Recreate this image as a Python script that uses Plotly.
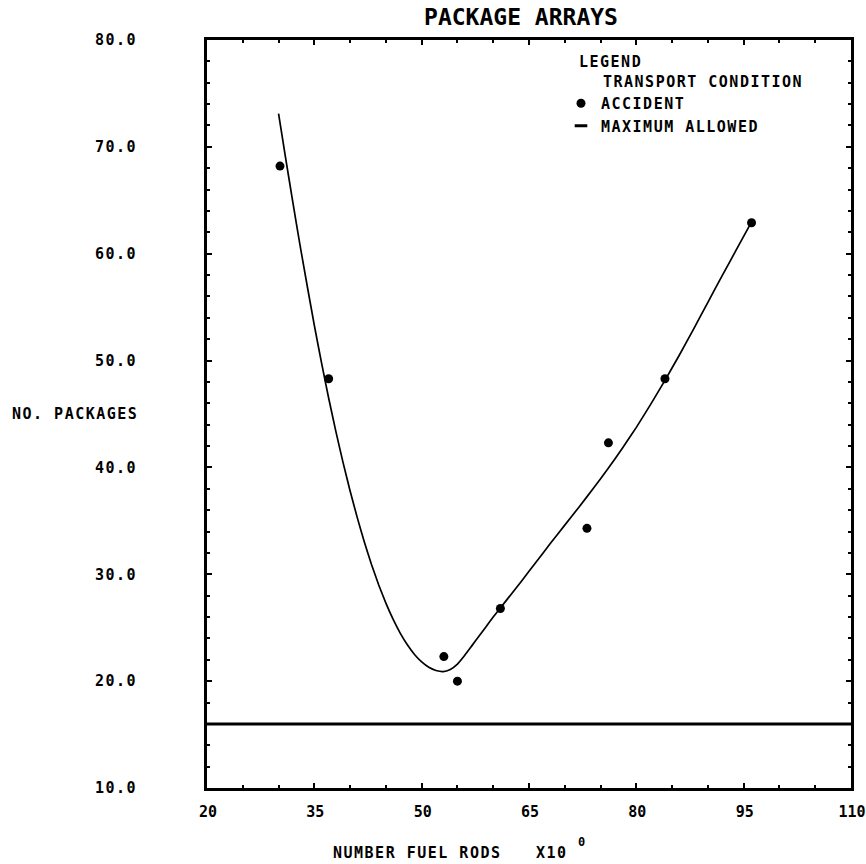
import plotly.graph_objects as go

# ---- data ----
accident_x = [30.2, 37.0, 53.1, 55.0, 61.0, 73.1, 76.1, 84.0, 96.1]
accident_y = [68.2, 48.3, 22.3, 20.0, 26.8, 34.3, 42.3, 48.3, 62.9]

fit_x = [30.0, 31.0, 32.0, 33.0, 34.0, 35.0, 36.0, 37.0, 38.0, 39.0, 40.0,
         41.0, 42.0, 43.0, 44.0, 45.0, 46.0, 47.0, 48.0, 49.0, 50.0, 51.0,
         52.0, 53.0, 54.0, 55.0, 56.0, 57.0, 58.0, 59.0, 60.0, 61.0, 62.0,
         64.0, 66.0, 68.0, 70.0, 72.0, 74.0, 76.0, 78.0, 80.0, 82.0, 84.0,
         86.0, 88.0, 90.0, 92.0, 94.0, 95.8]
fit_y = [73.1, 68.9, 64.8, 60.8, 57.0, 53.3, 49.8, 46.5, 43.4, 40.5, 37.8,
         35.3, 33.0, 30.9, 29.0, 27.3, 25.8, 24.5, 23.4, 22.5, 21.8, 21.3,
         21.0, 20.9, 21.1, 21.6, 22.4, 23.3, 24.2, 25.1, 26.0, 26.85, 27.7,
         29.4, 31.15, 32.9, 34.6, 36.3, 38.05, 39.85, 41.75, 43.75, 45.9, 48.15,
         50.5, 52.95, 55.45, 57.95, 60.4, 62.6]

max_allowed_x = [20, 110]
max_allowed_y = [16.0, 16.0]

x_ticks = [20, 35, 50, 65, 80, 95, 110]
x_ticklabels = ["20", "35", "50", "65", "80", "95", "110"]
y_ticks = [10, 20, 30, 40, 50, 60, 70, 80]
y_ticklabels = ["10.0", "20.0", "30.0", "40.0", "50.0", "60.0", "70.0", "80.0"]

FONT = "DejaVu Sans Mono"


def sp(text):
    """Wide letter spacing like the plotter's character set."""
    return '<span style="letter-spacing:1.5px">' + text + '</span>'


fig = go.Figure()

# fitted curve
fig.add_trace(go.Scatter(
    x=fit_x, y=fit_y, mode="lines", showlegend=False,
    line=dict(color="black", width=1.7, shape="spline", smoothing=0.4),
    hoverinfo="skip"))

# maximum allowed line
fig.add_trace(go.Scatter(
    x=max_allowed_x, y=max_allowed_y, mode="lines", showlegend=False,
    legendgroup="max", line=dict(color="black", width=3)))

# accident points
fig.add_trace(go.Scatter(
    x=accident_x, y=accident_y, mode="markers", name=sp("ACCIDENT"),
    marker=dict(color="black", size=9, symbol="circle")))

# legend entry for the maximum allowed line
fig.add_trace(go.Scatter(
    x=[None], y=[None], mode="markers", name=sp("MAXIMUM ALLOWED"),
    legendgroup="max",
    marker=dict(symbol="line-ew", size=9, color="black",
                line=dict(color="black", width=3))))

axis_common = dict(
    showline=True, linecolor="black", linewidth=3, mirror="ticks",
    ticks="inside", tickcolor="black", tickwidth=2, ticklen=5,
    showgrid=False, zeroline=False, ticklabeloverflow="allow",
    automargin=False,
    tickfont=dict(family=FONT, size=15, color="black", weight="bold"),
)

fig.update_xaxes(
    range=[20, 110], tickvals=x_ticks, ticktext=x_ticklabels,
    minor=dict(dtick=5, tick0=20, ticks="inside", ticklen=3, tickwidth=2, tickcolor="black"),
    ticklabelstandoff=8, ticklabelshift=1,
    **axis_common)
fig.update_yaxes(
    range=[10, 80], tickvals=y_ticks, ticktext=[sp(t) for t in y_ticklabels],
    minor=dict(dtick=2, tick0=10, ticks="inside", ticklen=3, tickwidth=2, tickcolor="black"),
    ticklabelstandoff=64,
    **axis_common)

L, R, T, B = 207, 15, 40, 76
PW, PH = 866 - L - R, 864 - T - B


def px(x):
    return (x - L) / PW


def py(y):
    return (864 - B - y) / PH


annot_font = dict(family=FONT, size=15, color="black", weight="bold")


def label(text, x, y, anchor="left", size=15):
    return dict(text=sp(text), x=px(x), y=py(y), xref="paper", yref="paper",
                xanchor=anchor, yanchor="middle", showarrow=False,
                font=dict(family=FONT, size=size, color="black", weight="bold"))


fig.update_layout(
    width=866, height=864, autosize=False,
    margin=dict(l=L, r=R, t=T, b=B, pad=0),
    paper_bgcolor="white", plot_bgcolor="white",
    font=dict(family=FONT, color="black"),
    title=dict(text="PACKAGE ARRAYS", x=521 / 866, y=1 - 17 / 864,
               xanchor="center", yanchor="middle",
               font=dict(family=FONT, size=23, color="black", weight="bold")),
    legend=dict(x=px(561), y=py(87), xanchor="left", yanchor="top",
                bgcolor="rgba(0,0,0,0)", borderwidth=0,
                font=annot_font, tracegroupgap=0, itemwidth=30),
    annotations=[
        label("LEGEND", 577, 62),
        label("TRANSPORT CONDITION", 601, 82),
        label("NO. PACKAGES", 10, 414),
        label("NUMBER FUEL RODS", 331, 853),
        label("X10", 534, 853),
        label("0", 582, 842, anchor="center", size=12),
    ],
)

post = """
document.documentElement.style.margin = '0';
document.documentElement.style.overflow = 'hidden';
document.body.style.margin = '0';
document.body.style.padding = '0';
document.body.style.overflow = 'hidden';
"""

fig.write_html("out.html", post_script=post,
               config={"displayModeBar": False, "staticPlot": True,
                       "responsive": False})
